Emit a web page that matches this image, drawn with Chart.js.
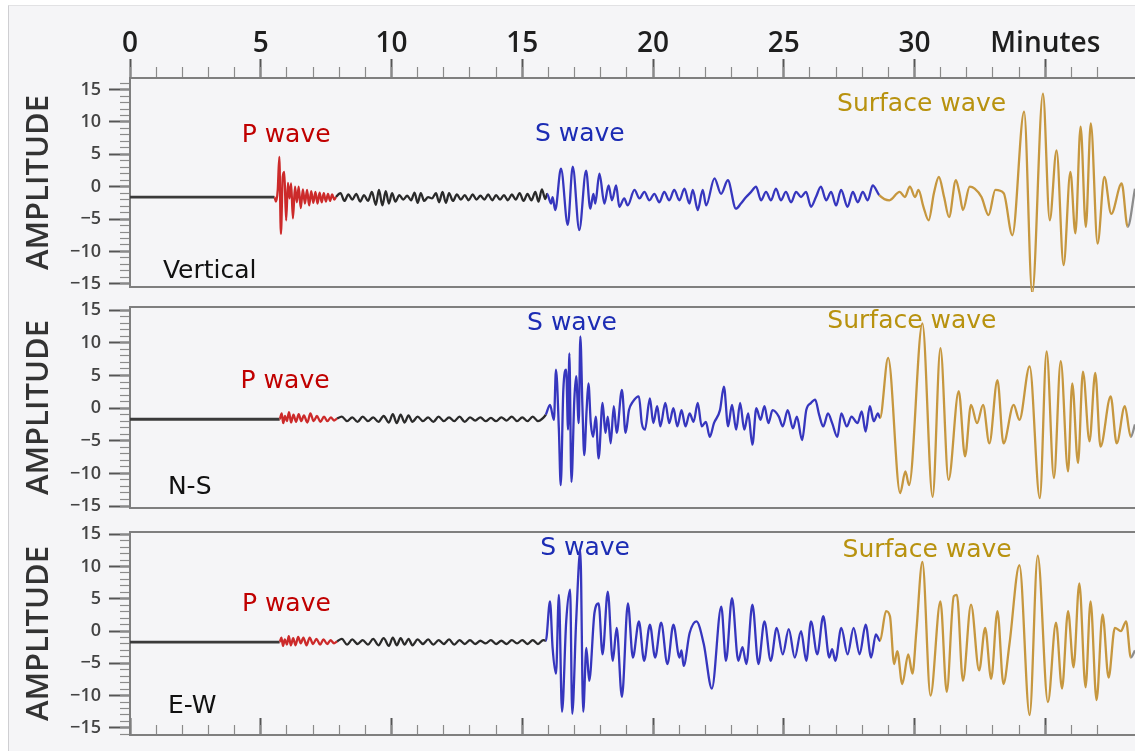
<!DOCTYPE html>
<html>
<head>
<meta charset="utf-8">
<script src="https://cdn.jsdelivr.net/npm/chart.js@4"></script>
<style>
  html, body { margin: 0; padding: 0; background: #ffffff; overflow: hidden; }
  #frame { position: absolute; left: 8px; top: 5px; width: 1127px; height: 746px; background: #f5f5f7;
           border-left: 1px solid #cfcfd2; border-top: 1px solid #e2e2e4; }
  .panel { position: absolute; left: 0; width: 1135px; }
</style>
</head>
<body>
<div id="frame"></div>
<div class="panel" id="p1" style="top:0px;height:292px"><canvas id="c1"></canvas></div>
<div class="panel" id="p2" style="top:292px;height:222px"><canvas id="c2"></canvas></div>
<div class="panel" id="p3" style="top:514px;height:237px"><canvas id="c3"></canvas></div>
<script>
// ---------------- DATA ----------------
const minuteLabels = ['0', '5', '10', '15', '20', '25', '30', 'Minutes'];
const amplitudeLabels = { '-15': '\u221215', '-10': '\u221210', '-5': '\u22125', '0': '0', '5': '5', '10': '10', '15': '15' };
const componentNames = ['Vertical', 'N-S', 'E-W'];
const phaseNames = ['P wave', 'S wave', 'Surface wave'];

// phase times per component (minutes): [P onset, P end, S onset, surface onset, surface end]
const verticalPhases = [5.52, 7.88, 15.95, 28.65, 38.15];
const nsPhases = [5.72, 7.92, 15.90, 28.68, 38.15];
const ewPhases = [5.72, 7.92, 15.90, 28.68, 38.15];

// label anchors [minutes, amplitude]: P wave, S wave, Surface wave, component name
const verticalLabelAt = [[5.97, 6.9], [17.2, 7.0], [30.27, 11.7], [1.26, -14.1]];
const nsLabelAt = [[5.93, 3.1], [16.9, 12.0], [29.9, 12.3], [1.45, -13.1]];
const ewLabelAt = [[5.98, 3.06], [17.4, 11.8], [30.48, 11.5], [1.45, -12.7]];

// traces: [minutes, amplitude]
const verticalTrace = [
  [0, -1.6], [5.52, -1.6],
  [5.58, -2.3], [5.65, -0.5], [5.71, 4.6], [5.77, -7.3], [5.84, 1.5], [5.90, 2.3], [5.97, -5.2], [6.04, 0.6],
  [6.10, -1.8], [6.16, 0.5], [6.23, -4.9], [6.31, 0.0], [6.38, -2.4], [6.45, 0.0], [6.53, -3.3], [6.61, -0.4],
  [6.69, -2.6], [6.77, -0.5], [6.85, -2.9], [6.93, -0.7], [7.01, -2.5], [7.09, -0.8], [7.17, -2.6], [7.25, -0.9],
  [7.33, -2.4], [7.41, -1.0], [7.49, -2.3], [7.57, -1.1], [7.65, -2.2], [7.73, -1.2], [7.81, -2.0], [7.88, -1.6],
  [8.05, -1.0], [8.2, -2.2], [8.35, -1.2], [8.5, -2.0], [8.65, -1.1], [8.8, -2.3], [8.95, -1.3], [9.1, -2.2],
  [9.25, -0.8], [9.4, -2.8], [9.52, -0.5], [9.65, -2.9], [9.78, -0.7], [9.9, -2.6], [10.02, -1.0], [10.15, -2.3],
  [10.3, -1.3], [10.45, -2.0], [10.6, -1.4], [10.75, -2.1], [10.88, -0.9], [11.0, -2.5], [11.12, -1.0], [11.25, -2.2],
  [11.4, -1.6], [11.55, -1.8], [11.7, -1.0], [11.82, -2.4], [11.95, -0.8], [12.08, -2.5], [12.2, -1.0], [12.35, -2.2],
  [12.5, -1.2], [12.65, -2.0], [12.8, -1.3], [12.95, -2.1], [13.1, -1.2], [13.25, -2.0], [13.4, -1.4], [13.55, -2.0],
  [13.7, -1.2], [13.85, -2.1], [14.0, -1.3], [14.15, -2.0], [14.3, -1.3], [14.45, -2.1], [14.6, -1.2], [14.75, -2.0],
  [14.9, -1.0], [15.05, -2.2], [15.2, -1.1], [15.35, -2.1], [15.5, -0.8], [15.62, -2.3], [15.75, -0.4], [15.88, -1.9],
  [15.95, -1.1], [16.10, -2.6], [16.16, -1.6], [16.26, -3.6], [16.48, 2.8], [16.74, -5.9], [16.93, 3.1], [17.18, -6.7],
  [17.44, 2.5], [17.60, -3.4], [17.72, -1.1], [17.79, -2.6], [17.95, 2.0], [18.14, -2.6], [18.30, 0.2], [18.43, -2.1],
  [18.59, 0.2], [18.71, -3.1], [18.90, -1.8], [19.03, -2.9], [19.29, -0.5], [19.48, -1.8], [19.67, -0.8], [19.86, -2.1],
  [20.05, -1.1], [20.24, -2.4], [20.43, -0.8], [20.62, -2.1], [20.81, -0.5], [21.01, -2.1], [21.20, -0.3], [21.39, -2.6],
  [21.52, -0.5], [21.71, -3.6], [21.90, -0.5], [22.03, -2.9], [22.35, 1.3], [22.60, -1.1], [22.86, 1.0], [23.17, -3.4],
  [23.36, -2.6], [23.56, -1.6], [23.75, -0.8], [23.94, 0.0], [24.13, -2.1], [24.32, -0.8], [24.51, -2.1], [24.70, -0.3],
  [24.89, -2.1], [25.08, -0.8], [25.28, -2.4], [25.47, -0.8], [25.66, -1.6], [25.85, -0.8], [26.04, -3.1], [26.23, -1.6],
  [26.42, 0.0], [26.62, -2.1], [26.81, -0.8], [27.00, -2.9], [27.19, -0.5], [27.44, -3.1], [27.64, -0.8], [27.83, -2.4],
  [28.02, -0.8], [28.21, -2.1], [28.40, 0.2], [28.65, -1.3],
  [29.04, -2.1], [29.43, -0.8], [29.63, -1.6], [29.82, 0.0], [30.02, -1.6], [30.15, -0.5], [30.34, -3.1], [30.54, -5.2],
  [30.74, -1.0], [30.93, 1.5], [31.13, -1.6], [31.32, -4.7], [31.58, 1.0], [31.72, -1.0], [31.85, -3.6], [32.11, 0.0],
  [32.30, -0.3], [32.56, -1.6], [32.83, -4.4], [33.09, -0.5], [33.41, -1.0], [33.74, -7.5], [34.19, 11.6], [34.50, -16.5],
  [34.91, 14.4], [35.17, -5.2], [35.43, 5.6], [35.70, -12.1], [35.96, 2.3], [36.15, -7.2], [36.35, 9.3], [36.55, -6.2],
  [36.74, 9.8], [37.00, -8.8], [37.26, 1.5], [37.52, -4.2], [37.92, 0.5], [38.15, -6.2], [38.43, -0.3]
];

const nsTrace = [
  [0, -1.7], [5.72, -1.7],
  [5.8, -0.8], [5.86, -2.3], [5.93, -1.2], [6.0, -2.0], [6.08, -0.6], [6.16, -2.2], [6.25, -1.0], [6.35, -2.1],
  [6.45, -0.9], [6.55, -2.0], [6.65, -1.1], [6.78, -2.2], [6.9, -0.8], [7.02, -2.0], [7.15, -1.2], [7.28, -2.1],
  [7.42, -1.3], [7.55, -2.0], [7.68, -1.4], [7.8, -1.9], [7.92, -1.6],
  [8.1, -1.3], [8.3, -2.0], [8.5, -1.4], [8.7, -2.1], [8.9, -1.3], [9.1, -2.0], [9.3, -1.4], [9.5, -2.1],
  [9.7, -1.2], [9.9, -2.2], [10.05, -0.9], [10.2, -2.3], [10.35, -1.0], [10.5, -2.2], [10.65, -1.1], [10.8, -2.1],
  [11.0, -1.3], [11.2, -2.0], [11.4, -1.4], [11.6, -2.1], [11.8, -1.3], [12.0, -2.0], [12.2, -1.4], [12.4, -2.0],
  [12.6, -1.3], [12.8, -2.1], [13.0, -1.4], [13.2, -1.9], [13.4, -1.4], [13.6, -2.0], [13.8, -1.5], [14.0, -2.0],
  [14.2, -1.4], [14.4, -1.9], [14.6, -1.3], [14.8, -2.0], [15.0, -1.4], [15.2, -2.0], [15.4, -1.3], [15.6, -2.0],
  [15.8, -1.5],
  [15.90, -1.0], [16.06, 0.5], [16.21, -1.8], [16.29, 5.9], [16.40, -3.3], [16.47, -11.8], [16.57, 2.8], [16.68, 5.9],
  [16.75, -3.3], [16.80, 8.4], [16.88, -11.3], [16.99, 1.3], [17.06, 4.9], [17.16, -2.3], [17.22, 11.0], [17.30, 0.3],
  [17.37, -7.2], [17.46, -0.3], [17.53, 3.8], [17.62, -2.3], [17.71, -4.4], [17.81, -1.3], [17.92, -7.7], [18.07, 0.8],
  [18.18, -3.8], [18.27, -1.3], [18.38, -5.4], [18.50, 0.3], [18.61, -3.8], [18.81, 2.8], [18.95, -3.8], [19.08, -0.3],
  [19.23, 1.0], [19.46, 1.8], [19.57, -2.3], [19.69, -3.3], [19.88, 1.5], [20.01, -2.3], [20.16, 0.3], [20.28, -2.8],
  [20.47, 0.8], [20.62, -2.3], [20.78, 0.0], [20.93, -2.8], [21.09, -0.3], [21.24, -2.8], [21.40, -0.8], [21.55, -2.1],
  [21.71, 0.8], [21.86, -2.8], [22.02, -2.1], [22.17, -4.4], [22.33, -2.3], [22.56, -0.3], [22.71, 3.3], [22.87, -2.8],
  [23.02, 0.5], [23.18, -3.3], [23.33, 0.8], [23.49, -3.3], [23.64, -0.8], [23.80, -5.6], [23.95, 0.0], [24.11, -1.8],
  [24.26, 0.3], [24.41, -2.3], [24.57, -0.3], [24.81, -1.3], [24.96, -2.8], [25.15, -0.3], [25.35, -3.1], [25.50, -1.3],
  [25.70, -4.9], [25.86, -0.3], [26.04, 0.8], [26.20, 1.3], [26.35, -1.0], [26.51, -2.8], [26.69, -0.8], [26.85, -2.3],
  [27.05, -4.4], [27.20, -0.8], [27.41, -2.8], [27.59, -1.3], [27.82, -2.3], [27.98, -0.5], [28.13, -3.6], [28.29, 0.3],
  [28.44, -2.0], [28.60, -0.8], [28.68, -1.5],
  [28.99, 7.7], [29.45, -13.0], [29.65, -9.7], [29.79, -11.8], [30.30, 13.0], [30.69, -13.6], [30.99, 9.2], [31.30, -11.0],
  [31.69, 2.6], [31.93, -7.4], [32.16, 0.5], [32.39, -2.3], [32.62, 0.5], [32.86, -5.4], [33.17, 4.3], [33.40, -5.4],
  [33.79, 0.5], [34.01, -1.8], [34.40, 6.4], [34.79, -13.8], [35.05, 8.7], [35.33, -10.7], [35.59, 7.2], [35.87, -9.7],
  [36.03, 3.8], [36.25, -8.4], [36.44, 5.6], [36.69, -5.1], [36.91, 5.4], [37.11, -5.9], [37.50, 1.8], [37.73, -5.4],
  [38.04, 0.3], [38.27, -4.4], [38.43, -2.5]
];

const ewTrace = [
  [0, -1.7], [5.72, -1.7],
  [5.79, -1.0], [5.85, -2.3], [5.92, -1.3], [6.0, -2.1], [6.07, -0.8], [6.15, -2.2], [6.24, -1.1], [6.33, -2.2],
  [6.43, -0.9], [6.53, -1.9], [6.63, -1.0], [6.75, -2.2], [6.87, -1.0], [7.0, -2.0], [7.13, -1.2], [7.27, -2.1],
  [7.4, -1.3], [7.54, -2.0], [7.67, -1.4], [7.8, -1.9], [7.92, -1.6],
  [8.1, -1.2], [8.3, -2.1], [8.5, -1.3], [8.7, -2.0], [8.9, -1.4], [9.1, -2.1], [9.3, -1.2], [9.5, -2.2],
  [9.7, -1.1], [9.9, -2.3], [10.05, -1.0], [10.2, -2.2], [10.35, -1.1], [10.5, -2.1], [10.65, -1.2], [10.8, -2.2],
  [11.0, -1.3], [11.2, -2.0], [11.4, -1.3], [11.6, -2.1], [11.8, -1.4], [12.0, -2.0], [12.2, -1.3], [12.4, -2.1],
  [12.6, -1.4], [12.8, -2.0], [13.0, -1.4], [13.2, -2.0], [13.4, -1.5], [13.6, -1.9], [13.8, -1.4], [14.0, -2.0],
  [14.2, -1.5], [14.4, -2.0], [14.6, -1.4], [14.8, -1.9], [15.0, -1.4], [15.2, -2.0], [15.4, -1.4], [15.6, -2.0],
  [15.8, -1.4],
  [15.90, -1.5], [16.06, 4.6], [16.16, -2.6], [16.29, -6.6], [16.40, 5.6], [16.52, -12.5], [16.68, 1.5], [16.83, 6.4],
  [16.91, -12.8], [17.06, 1.5], [17.22, 12.5], [17.33, -12.5], [17.45, -2.6], [17.56, -7.7], [17.76, 2.8], [17.92, 4.3],
  [18.07, -3.6], [18.27, 6.1], [18.46, -4.6], [18.61, 0.5], [18.81, -10.2], [19.04, 4.3], [19.23, -4.1], [19.46, 1.5],
  [19.66, -4.6], [19.88, 1.0], [20.08, -4.1], [20.31, 1.3], [20.55, -5.1], [20.78, 1.0], [21.01, -4.1], [21.09, -3.0],
  [21.17, -5.4], [21.40, -0.3], [21.66, 1.5], [21.94, -2.0], [22.25, -8.9], [22.61, 3.8], [22.79, -4.6], [23.02, 5.1],
  [23.26, -4.6], [23.42, -2.5], [23.57, -5.1], [23.80, 4.1], [24.03, -5.1], [24.26, 1.5], [24.50, -4.6], [24.73, 0.5],
  [24.96, -3.6], [25.19, 0.3], [25.42, -4.1], [25.66, 0.0], [25.86, -4.6], [26.04, 1.5], [26.28, -3.6], [26.51, 2.3],
  [26.74, -4.1], [26.85, -2.8], [26.97, -4.6], [27.20, 0.5], [27.44, -3.6], [27.67, 0.5], [27.90, -3.6], [28.13, 1.0],
  [28.34, -4.1], [28.52, -0.5], [28.68, -1.5],
  [28.91, 3.1], [29.06, 2.3], [29.22, -5.1], [29.34, -3.1], [29.53, -8.2], [29.76, -3.6], [29.92, -6.6], [30.07, 0.0],
  [30.30, 10.7], [30.61, -10.0], [30.99, 4.6], [31.23, -9.4], [31.50, 5.4], [31.62, 5.6], [31.85, -7.7], [32.16, 4.1],
  [32.47, -6.1], [32.70, 0.5], [32.93, -7.4], [33.17, 3.1], [33.40, -8.2], [33.63, -2.0], [34.01, 10.2], [34.40, -13.0],
  [34.71, 11.7], [35.10, -11.0], [35.41, 1.3], [35.64, -8.9], [35.87, 3.1], [36.08, -5.6], [36.30, 7.4], [36.54, -8.7],
  [36.73, 4.6], [36.96, -10.7], [37.19, 2.6], [37.42, -7.2], [37.66, 0.5], [37.89, 0.0], [38.09, 1.5], [38.27, -4.1],
  [38.43, -3.0]
];

// ---------------- STYLE / LAYOUT ----------------
const COLORS = {
  pre: '#3a3a3a', p: '#cc2a2a', mid: '#2a2a2a', s: '#3636be', surface: '#c6973f', post: '#8c8c8c',
  pLabel: '#c00000', sLabel: '#1c2cb4', surfaceLabel: '#b8920f', name: '#111111'
};
const X_MAX = 38.43;

const panels = [
  { id: 'c1', trace: verticalTrace, phases: verticalPhases, labels: verticalLabelAt, name: componentNames[0],
    topH: 78, bottomH: 5, yMin: -15.5, yMax: 16.8, topTicks: true, bottomTicks: false },
  { id: 'c2', trace: nsTrace, phases: nsPhases, labels: nsLabelAt, name: componentNames[1],
    topH: 15, bottomH: 6, yMin: -15.3, yMax: 15.5, topTicks: false, bottomTicks: false },
  { id: 'c3', trace: ewTrace, phases: ewPhases, labels: ewLabelAt, name: componentNames[2],
    topH: 18, bottomH: 16, yMin: -16.1, yMax: 15.35, topTicks: false, bottomTicks: true }
];

function colorAt(t, ph) {
  if (t < ph[0]) return COLORS.pre;
  if (t < ph[1]) return COLORS.p;
  if (t < ph[2]) return COLORS.mid;
  if (t < ph[3]) return COLORS.s;
  if (t < ph[4]) return COLORS.surface;
  return COLORS.post;
}

const labelPlugin = {
  id: 'phaseLabels',
  beforeDatasetsDraw(chart, args, opts) {
    const { ctx } = chart;
    const xs = chart.scales.x, ys = chart.scales.y;
    ctx.save();
    ctx.textBaseline = 'alphabetic';
    for (const it of opts.items) {
      ctx.font = '25px "DejaVu Sans"';
      ctx.fillStyle = it.color;
      ctx.textAlign = it.align;
      ctx.fillText(it.text, xs.getPixelForValue(it.t), ys.getPixelForValue(it.a));
    }
    ctx.restore();
  }
};

function fitSize(prop, val) {
  return (s) => { s[prop] = val; s.paddingLeft = 0; s.paddingRight = 0; s.paddingTop = 0; s.paddingBottom = 0; };
}

function borderOnlyX(position, h, weight) {
  return {
    type: 'linear', position, min: 0, max: X_MAX, weight, display: true,
    afterFit: fitSize('height', h),
    border: { display: true, color: '#7f7f7f', width: 2 },
    grid: { display: false, drawOnChartArea: false },
    ticks: { display: false }
  };
}

function tickX(position, h, weight, step, tl, width, color, labels) {
  return {
    type: 'linear', position, min: 0, max: X_MAX, weight, display: true,
    afterFit: fitSize('height', h),
    border: { display: labels, color: '#7f7f7f', width: 2 },
    grid: { display: true, drawOnChartArea: false, drawTicks: true, tickLength: tl, tickWidth: width, tickColor: color },
    ticks: {
      display: labels, stepSize: step, includeBounds: false, maxTicksLimit: 200, autoSkip: false, maxRotation: 0,
      padding: 1, color: '#1e1e1e', font: { family: 'Open Sans', size: 28, weight: '600', lineHeight: 1 },
      callback: (v) => minuteLabels[Math.round(v / 5)]
    }
  };
}

function makePanel(p) {
  const scales = {};
  if (p.topTicks) {
    scales.x = tickX('top', p.topH, 2, 5, 19, 2, '#555', true);
    scales.xm = tickX('top', 0, 0, 1, 11, 1.2, '#8a8a8a', false);
  } else {
    scales.x = borderOnlyX('top', p.topH, 2);
  }
  if (p.bottomTicks) {
    scales.xb = tickX('bottom', p.bottomH, 2, 5, -17, 2, '#555', false);
    scales.xb.border.display = true;
    scales.xbm = tickX('bottom', 0, 0, 1, -10, 1.2, '#8a8a8a', false);
  } else {
    scales.xb = borderOnlyX('bottom', p.bottomH, 2);
  }
  scales.y = {
    type: 'linear', position: 'left', min: p.yMin, max: p.yMax, weight: 2,
    afterFit: fitSize('width', 130),
    border: { display: true, color: '#7f7f7f', width: 2 },
    grid: { display: true, drawOnChartArea: false, drawTicks: true, tickLength: 21, tickWidth: 2, tickColor: '#555' },
    ticks: {
      stepSize: 5, includeBounds: false, maxTicksLimit: 200, autoSkip: false, padding: 8,
      color: '#444444', font: { family: 'Open Sans', size: 18, weight: '600', lineHeight: 1 },
      callback: (v) => amplitudeLabels[String(v)]
    },
    title: {
      display: true, text: 'AMPLITUDE', color: '#333333',
      font: { family: 'Open Sans', size: 31, weight: '600', lineHeight: 1.2 },
      padding: { top: 21, bottom: 0 }
    }
  };
  scales.ym = {
    type: 'linear', position: 'left', min: p.yMin, max: p.yMax, weight: 0,
    afterFit: fitSize('width', 0),
    border: { display: false },
    grid: { display: true, drawOnChartArea: false, drawTicks: true, tickLength: 10, tickWidth: 1.2, tickColor: '#8a8a8a' },
    ticks: { display: false, stepSize: 1, includeBounds: false, maxTicksLimit: 200, autoSkip: false }
  };

  const items = [
    { text: phaseNames[0], t: p.labels[0][0], a: p.labels[0][1], color: COLORS.pLabel, align: 'center' },
    { text: phaseNames[1], t: p.labels[1][0], a: p.labels[1][1], color: COLORS.sLabel, align: 'center' },
    { text: phaseNames[2], t: p.labels[2][0], a: p.labels[2][1], color: COLORS.surfaceLabel, align: 'center' },
    { text: p.name, t: p.labels[3][0], a: p.labels[3][1], color: COLORS.name, align: 'left' }
  ];

  new Chart(document.getElementById(p.id), {
    type: 'line',
    data: {
      datasets: [{
        data: p.trace.map(([t, a]) => ({ x: t, y: a })),
        borderWidth: 2.3,
        borderColor: COLORS.mid,
        pointRadius: 0,
        cubicInterpolationMode: 'monotone',
        clip: 8,
        segment: {
          borderColor: (ctx) => colorAt(ctx.p0.parsed.x, p.phases),
          borderWidth: (ctx) => (ctx.p0.parsed.x < p.phases[0] ? 2.8 : 2.3)
        }
      }]
    },
    options: {
      responsive: true,
      maintainAspectRatio: false,
      devicePixelRatio: 1,
      animation: false,
      layout: { padding: 0 },
      plugins: { legend: { display: false }, tooltip: { enabled: false }, phaseLabels: { items } },
      scales
    },
    plugins: [labelPlugin]
  });
}

panels.forEach(makePanel);
</script>
</body>
</html>
